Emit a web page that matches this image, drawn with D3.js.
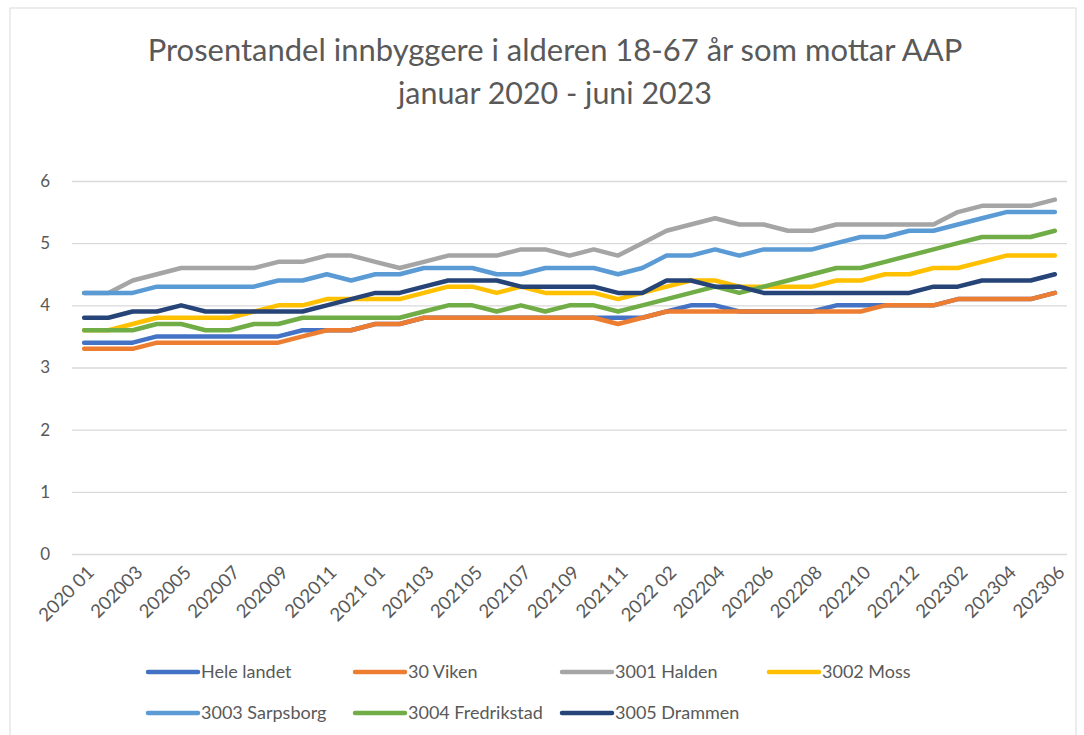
<!DOCTYPE html>
<html lang="no">
<head>
    <meta charset="UTF-8">
    <title>Prosentandel innbyggere som mottar AAP</title>
    <script src="https://d3js.org/d3.v7.min.js"></script>
    <style>
        body { margin: 0; background: #fff; }
        svg { font-family: Lato, "Noto Sans", sans-serif; }
        .grid line { stroke: #d9d9d9; stroke-width: 1.3; }
        .series { fill: none; stroke-width: 4.5; stroke-linejoin: round; stroke-linecap: round; }
    </style>
</head>
<body>
    <svg width="1084" height="735"></svg>

    <script>
        // Months (one month seems to be missing in the source, 41 points in total)
        const months = [
            "2020 01", "202002", "202003", "202004", "202005", "202006", "202007", "202008", "202009", "202010", "202011", "202012",
            "2021 01", "202102", "202103", "202104", "202105", "202106", "202107", "202108", "202109", "202110", "202111", "202112",
            "2022 02", "202203", "202204", "202205", "202206", "202207", "202208", "202209", "202210", "202211", "202212",
            "202301", "202302", "202303", "202304", "202305", "202306"
        ];

        const seriesNames = ["Hele landet", "30 Viken", "3001 Halden", "3002 Moss", "3003 Sarpsborg", "3004 Fredrikstad", "3005 Drammen"];
        const seriesColors = ["#4472c4", "#ed7d31", "#a5a5a5", "#ffc000", "#5b9bd5", "#70ad47", "#264478"];

        const heleLandet = [3.4, 3.4, 3.4, 3.5, 3.5, 3.5, 3.5, 3.5, 3.5, 3.6, 3.6, 3.6, 3.7, 3.7, 3.8, 3.8, 3.8, 3.8, 3.8, 3.8, 3.8,
            3.8, 3.8, 3.8, 3.9, 4.0, 4.0, 3.9, 3.9, 3.9, 3.9, 4.0, 4.0, 4.0, 4.0, 4.0, 4.1, 4.1, 4.1, 4.1, 4.2];
        const viken = [3.3, 3.3, 3.3, 3.4, 3.4, 3.4, 3.4, 3.4, 3.4, 3.5, 3.6, 3.6, 3.7, 3.7, 3.8, 3.8, 3.8, 3.8, 3.8, 3.8, 3.8,
            3.8, 3.7, 3.8, 3.9, 3.9, 3.9, 3.9, 3.9, 3.9, 3.9, 3.9, 3.9, 4.0, 4.0, 4.0, 4.1, 4.1, 4.1, 4.1, 4.2];
        const halden = [4.2, 4.2, 4.4, 4.5, 4.6, 4.6, 4.6, 4.6, 4.7, 4.7, 4.8, 4.8, 4.7, 4.6, 4.7, 4.8, 4.8, 4.8, 4.9, 4.9, 4.8,
            4.9, 4.8, 5.0, 5.2, 5.3, 5.4, 5.3, 5.3, 5.2, 5.2, 5.3, 5.3, 5.3, 5.3, 5.3, 5.5, 5.6, 5.6, 5.6, 5.7];
        const moss = [3.6, 3.6, 3.7, 3.8, 3.8, 3.8, 3.8, 3.9, 4.0, 4.0, 4.1, 4.1, 4.1, 4.1, 4.2, 4.3, 4.3, 4.2, 4.3, 4.2, 4.2,
            4.2, 4.1, 4.2, 4.3, 4.4, 4.4, 4.3, 4.3, 4.3, 4.3, 4.4, 4.4, 4.5, 4.5, 4.6, 4.6, 4.7, 4.8, 4.8, 4.8];
        const sarpsborg = [4.2, 4.2, 4.2, 4.3, 4.3, 4.3, 4.3, 4.3, 4.4, 4.4, 4.5, 4.4, 4.5, 4.5, 4.6, 4.6, 4.6, 4.5, 4.5, 4.6, 4.6,
            4.6, 4.5, 4.6, 4.8, 4.8, 4.9, 4.8, 4.9, 4.9, 4.9, 5.0, 5.1, 5.1, 5.2, 5.2, 5.3, 5.4, 5.5, 5.5, 5.5];
        const fredrikstad = [3.6, 3.6, 3.6, 3.7, 3.7, 3.6, 3.6, 3.7, 3.7, 3.8, 3.8, 3.8, 3.8, 3.8, 3.9, 4.0, 4.0, 3.9, 4.0, 3.9, 4.0,
            4.0, 3.9, 4.0, 4.1, 4.2, 4.3, 4.2, 4.3, 4.4, 4.5, 4.6, 4.6, 4.7, 4.8, 4.9, 5.0, 5.1, 5.1, 5.1, 5.2];
        const drammen = [3.8, 3.8, 3.9, 3.9, 4.0, 3.9, 3.9, 3.9, 3.9, 3.9, 4.0, 4.1, 4.2, 4.2, 4.3, 4.4, 4.4, 4.4, 4.3, 4.3, 4.3,
            4.3, 4.2, 4.2, 4.4, 4.4, 4.3, 4.3, 4.2, 4.2, 4.2, 4.2, 4.2, 4.2, 4.2, 4.3, 4.3, 4.4, 4.4, 4.4, 4.5];

        const allSeries = [heleLandet, viken, halden, moss, sarpsborg, fredrikstad, drammen];
        const yTicks = [0, 1, 2, 3, 4, 5, 6];

        const svg = d3.select("svg");
        const textColor = "#595959";

        // chart frame
        svg.append("rect")
            .attr("x", 10).attr("y", 8)
            .attr("width", 1066).attr("height", 740)
            .attr("fill", "none")
            .attr("stroke", "#d9d9d9");

        // plot area
        const plotLeft = 72, plotRight = 1067, plotTop = 181, plotBottom = 554;
        const band = (plotRight - plotLeft) / months.length;

        const x = d3.scalePoint()
            .domain(months)
            .range([plotLeft + band / 2, plotRight - band / 2]);
        const y = d3.scaleLinear().domain([0, 6]).range([plotBottom, plotTop]);

        // title (fit to the width of the original)
        function fitText(sel, targetWidth, size) {
            sel.attr("font-size", size);
            const w = sel.node().getComputedTextLength();
            sel.attr("font-size", size * targetWidth / w);
        }
        const t1 = svg.append("text")
            .attr("x", 555).attr("y", 61)
            .attr("text-anchor", "middle")
            .attr("fill", textColor)
            .text("Prosentandel innbyggere i alderen 18-67 år som mottar AAP");
        fitText(t1, 815, 26);
        const t2 = svg.append("text")
            .attr("x", 555).attr("y", 104)
            .attr("text-anchor", "middle")
            .attr("fill", textColor)
            .text("januar 2020 - juni 2023");
        fitText(t2, 314, 26);

        // y axis with gridlines
        const yAxis = svg.append("g")
            .attr("class", "grid")
            .attr("transform", `translate(${plotLeft},0)`)
            .call(d3.axisLeft(y).tickValues(yTicks).tickSize(-(plotRight - plotLeft)).tickPadding(22).tickFormat(d3.format("d")));
        yAxis.select(".domain").remove();
        yAxis.selectAll("text")
            .attr("fill", textColor)
            .attr("font-size", 17)
            .attr("font-family", "Lato, 'Noto Sans', sans-serif");

        // x axis labels, every second month
        const xAxis = svg.append("g")
            .attr("transform", `translate(0,${plotBottom})`)
            .call(d3.axisBottom(x).tickValues(months.filter((d, i) => i % 2 === 0)).tickSize(0));
        xAxis.select(".domain").remove();
        xAxis.selectAll("text")
            .attr("fill", textColor)
            .attr("font-size", 18.5)
            .attr("font-family", "Lato, 'Noto Sans', sans-serif")
            .attr("text-anchor", "end")
            .attr("y", 0)
            .attr("dy", "0.35em")
            .attr("transform", "translate(6,15) rotate(-45)");

        // lines
        const line = d3.line()
            .x((d, i) => x(months[i]))
            .y(d => y(d));

        allSeries.forEach((s, k) => {
            svg.append("path")
                .datum(s)
                .attr("class", "series")
                .attr("stroke", seriesColors[k])
                .attr("d", line);
        });

        // legend
        const legend = svg.append("g");
        seriesNames.forEach((name, i) => {
            const col = i % 4, row = Math.floor(i / 4);
            const gx = 148 + col * 207, gy = 672 + row * 41;
            const item = legend.append("g").attr("transform", `translate(${gx},${gy})`);
            item.append("line")
                .attr("x1", 0).attr("x2", 50)
                .attr("y1", 0).attr("y2", 0)
                .attr("stroke", seriesColors[i])
                .attr("stroke-width", 4.5)
                .attr("stroke-linecap", "round");
            item.append("text")
                .attr("x", 53).attr("y", 0)
                .attr("dy", "0.35em")
                .attr("fill", textColor)
                .attr("font-size", 18)
                .text(name);
        });
    </script>
</body>
</html>
